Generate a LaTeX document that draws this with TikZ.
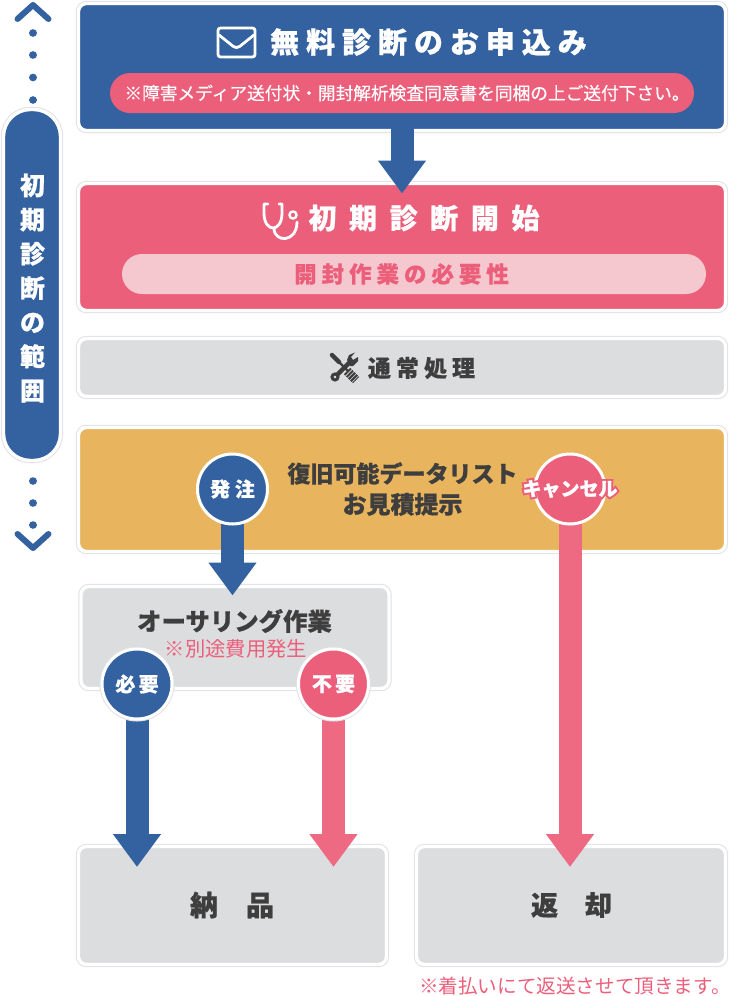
\documentclass[tikz,border=0pt]{standalone}
\usepackage{fontspec}
\setmainfont{Noto Sans CJK JP}
\usetikzlibrary{arrows.meta,calc}
\definecolor{sblue}{HTML}{3462A0}
\definecolor{spink}{HTML}{EC5F7B}
\definecolor{sarrowpink}{HTML}{EE6A82}
\definecolor{spale}{HTML}{F5C8D0}
\definecolor{sorange}{HTML}{E8B55E}
\definecolor{sgrey}{HTML}{DCDDDF}
\definecolor{sline}{HTML}{E1E1E4}
\definecolor{sdark}{HTML}{3E3E3E}
\pgfdeclarelayer{front}
\pgfsetlayers{main,front}
\newcommand{\bsize}[2]{\bfseries\fontsize{#1}{#1}\selectfont\addfontfeature{LetterSpace=#2,FakeBold=0.6}}
\newcommand{\rsize}[1]{\fontsize{#1}{#1}\selectfont}
\newcommand{\halo}[1]{\makebox[0pt]{\rlap{\color{spink}\addfontfeature{FakeBold=22}#1}{\addfontfeature{FakeBold=1.2}#1}}}

\begin{document}
\begin{tikzpicture}[
    x=1pt, y=-1pt,
    panel/.style={preaction={draw=sline, line width=5.4pt}, draw=white, line width=3.4pt,
      rounded corners=8pt, outer sep=0pt, inner sep=0pt, align=center},
    pill/.style={rounded corners=20pt, outer sep=0pt, inner sep=0pt, minimum width=584pt, minimum height=40pt},
    badge/.style={circle, draw=white, line width=3pt, inner sep=0pt, outer sep=0pt, minimum size=70pt, text=white},
    ringed/.style={badge, preaction={draw=sline, line width=5pt}},
    flowblue/.style={-{Triangle[length=33pt, width=46pt]}, line width=23pt, draw=sblue},
    flowpink/.style={-{Triangle[length=33pt, width=46pt]}, line width=23pt, draw=sarrowpink},
    icon/.style={draw=white, line width=2.8pt, line cap=round, line join=round}
  ]
    \useasboundingbox (0,0) rectangle (739,996);

    \node[panel, fill=sblue, minimum width=647pt, minimum height=127pt] (apply) at (402,67) {};
    \node[panel, fill=spink, minimum width=647pt, minimum height=127pt] (diagnosis) at (402,247) {};
    \node[panel, fill=sgrey, minimum width=647pt, minimum height=58pt] (routine) at (402,367.5) {};
    \node[panel, fill=sorange, minimum width=647pt, minimum height=124pt] (quote) at (402,489.5) {};
    \node[panel, fill=sgrey, minimum width=308pt, minimum height=102pt] (authoring) at (235,637.5) {};
    \node[panel, fill=sgrey, minimum width=308pt, minimum height=118pt] (delivery) at (232.5,905.5) {};
    \node[panel, fill=sgrey, minimum width=309pt, minimum height=118pt] (returned) at (571,905.5) {};

    \node[text=white, font=\bsize{29}{24}] (applytitle) at (428.5,42) {無料診断のお申込み};
    \node[pill, fill=spink] (applypill) at (402,93) {};
    \node[text=white, font=\rsize{17.7}\addfontfeature{FakeBold=0.4}] (applynote) at (407,93) {※障害メディア送付状・開封解析検査同意書を同梱の上ご送付下さい。};
    \node[text=white, font=\bsize{28}{45}] (diagnosistitle) at (424,218) {初期診断開始};
    \node[pill, fill=spale] (diagnosispill) at (414,274) {};
    \node[text=spink, font=\bsize{22.5}{22}] (diagnosisnote) at (401.5,274) {開封作業の必要性};
    \node[text=sdark, font=\bsize{23}{22}] (routinetitle) at (421.5,368) {通常処理};
    \node[text=sdark, font=\bsize{23}{0}, align=center, inner sep=0pt] (quotetitle) at (402.5,489) {復旧可能データリスト\\[8pt]{\fontsize{24}{24}\selectfont お見積提示}};
    \node[text=sdark, font=\bsize{24.4}{0}] (authoringtitle) at (234.5,621) {オーサリング作業};
    \node[text=spink, font=\rsize{20.3}] (authoringnote) at (236,649) {※別途費用発生};
    \node[text=sdark, font=\bsize{28}{0}] (deliverytitle) at (232,905) {納　品};
    \node[text=sdark, font=\bsize{27}{0}] (returnedtitle) at (571.5,905) {返　却};
    \node[text=spink, font=\rsize{19.6}, anchor=east, inner sep=0pt] (returnednote) at (731,986) {※着払いにて返送させて頂きます。};

    \begin{pgfonlayer}{front}
      \node[panel, fill=sblue, rounded corners=27pt, minimum width=57pt, minimum height=351pt] (scope) at (32,285) {};
      \node[text=white, align=center, font=\bfseries\fontsize{25}{34.2}\selectfont\addfontfeature{FakeBold=0.6}] (scopetitle) at (32.5,288) {初\\期\\診\\断\\の\\範\\囲};
      \node[badge, fill=sblue, font=\bsize{20}{24}] (order) at (232.5,489) {発注};
      \node[badge, fill=spink, font=\bfseries\fontsize{19}{19}\selectfont] (cancel) at (570,489) {\halo{キャンセル}};
      \node[ringed, fill=sblue, font=\bsize{20}{16}] (required) at (137,684) {必要};
      \node[ringed, fill=spink, font=\bsize{20}{16}] (notrequired) at (333.5,684) {不要};
    \end{pgfonlayer}

    \draw[flowblue, shorten <=-4pt, shorten >=-10pt] (apply.south) -- (diagnosis.north -| apply);
    \draw[flowblue, shorten >=-9pt] (order.center) -- (order |- authoring.north);
    \draw[flowpink, shorten >=-20.5pt] (cancel.center) -- (cancel |- returned.north);
    \draw[flowblue, shorten >=-20.5pt] (required.center) -- (required |- delivery.north);
    \draw[flowpink, shorten >=-20.5pt] (notrequired.center) -- (notrequired |- delivery.north);

    % scope markers
    \draw[sblue, line width=6pt, line cap=round, line join=round] (17.5,19) -- (33,5) -- (48.5,19);
    \draw[sblue, line width=6pt, line cap=round, line join=round] (17.5,534) -- (33,548) -- (48.5,534);
    \foreach \y in {33,55,77.5,100,481,503,525}
      \fill[sblue] (33,\y) ellipse (4pt and 3.8pt);

    % envelope
    \draw[icon, rounded corners=2.5pt] (218,28) rectangle (255,57);
    \draw[icon, rounded corners=4pt] (219,35) -- (236.5,49) -- (254,35);

    % stethoscope
    \draw[icon] (268,204) -- (264,204) -- (264,213) .. controls (264,233) and (282,233) .. (282,213) -- (282,204) -- (279,204);
    \draw[icon] (274,228) .. controls (274,243) and (297,243) .. (297,222);
    \draw[icon, line width=2.4pt] (293,215) circle (3.6pt);

    % tools
    \draw[sdark, line width=4.5pt, line cap=round] (332,355) -- (339,362);
    \draw[sdark, line width=2.4pt] (339,362) -- (348,371);
    \draw[sdark, line width=9pt, dash pattern=on 2pt off 1pt] (347,371) -- (356,380);
    \draw[sdark, line width=3pt] (335,377) circle (3pt);
    \draw[sdark, line width=4.5pt] (337,375) -- (350,362);
    \fill[sdark] (347,360) -- (349,355) -- (355,352.5) -- (351,357) -- (353,360) -- (358,357) -- (358,361) -- (353,366) -- (350,366) -- cycle;
  \end{tikzpicture}
\end{document}
